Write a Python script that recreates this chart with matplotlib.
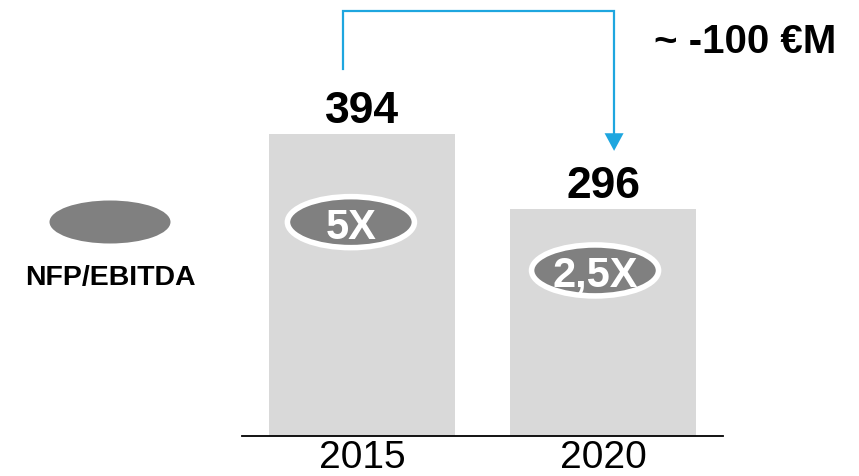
import matplotlib
matplotlib.use("Agg")
import matplotlib.pyplot as plt
from matplotlib.patches import Ellipse, Polygon

plt.rcParams['font.family'] = ['Liberation Sans', 'DejaVu Sans']

# Net financial position (M EUR) and leverage ratio per year
years = ["2015", "2020"]
nfp_values = [394, 296]
ratio_labels = ["5X", "2,5X"]
delta_label = "~ -100 €M"
legend_label = "NFP/EBITDA"

BAR_GREY = "#D9D9D9"
OVAL_GREY = "#808080"
BLUE = "#1EA6DF"

W, H = 859, 477
fig = plt.figure(figsize=(W / 100, H / 100), dpi=100)
ax = fig.add_axes([242 / W, 40 / H, 481 / W, 437 / H])

px_per_unit = 302 / 394.0
ax.set_ylim(0, 437 / px_per_unit)
ax.set_xlim(-120 / 241, 1 + 120 / 241)

x = list(range(len(years)))
bar_w = 186 / 241
ax.bar(x, nfp_values, width=bar_w, color=BAR_GREY, zorder=1)

for s in ["top", "right", "left"]:
    ax.spines[s].set_visible(False)
ax.spines["bottom"].set_linewidth(1.3)
ax.set_yticks([])
ax.set_xticks(x, years, fontsize=28)
ax.tick_params(axis="x", length=0, pad=2)

# value labels above bars
for xi, v in zip(x, nfp_values):
    ax.text(xi, v + 16, str(v), ha="center", va="baseline",
            fontsize=32, fontweight="bold", color="black")

# ratio ovals inside bars (offset below bar top)
oval_offsets = [-115, -80]
oval_dx = [-0.046, -0.033]
for xi, v, lab, off, dx in zip(x, nfp_values, ratio_labels, oval_offsets, oval_dx):
    cx, cy = xi + dx, v + off
    ax.add_patch(Ellipse((cx, cy), 127 / 241, 51 / px_per_unit,
                         facecolor=OVAL_GREY, edgecolor="white",
                         linewidth=4, zorder=3))
    ax.text(cx, cy, lab, ha="center", va="center_baseline", fontsize=30,
            fontweight="bold", color="white", zorder=4)

# bracket arrow from 2015 to 2020
y_top = nfp_values[0] + 160
x0, x1 = -0.079, 1.046
tip_y = nfp_values[1] + 76
ax.plot([x0, x0, x1, x1], [nfp_values[0] + 85, y_top, y_top, tip_y + 20],
        color=BLUE, linewidth=1.6, clip_on=False, solid_joinstyle="miter")
ax.add_patch(Polygon([[x1 - 9.5 / 241, tip_y + 23], [x1 + 9.5 / 241, tip_y + 23],
                      [x1, tip_y]], closed=True, facecolor=BLUE,
                     edgecolor="none", clip_on=False))

fig.text(836 / W, 1 - 53 / H, delta_label, ha="right", va="baseline",
         fontsize=29, fontweight="bold")

# legend oval
fig.patches.append(Ellipse((110 / W, 1 - 223 / H), 121 / W, 43 / H,
                           facecolor=OVAL_GREY, edgecolor="none",
                           transform=fig.transFigure, figure=fig))
fig.text(110 / W, 1 - 285 / H, legend_label, ha="center", va="baseline",
         fontsize=20.5, fontweight="bold")

fig.savefig("out.png", dpi=100)
